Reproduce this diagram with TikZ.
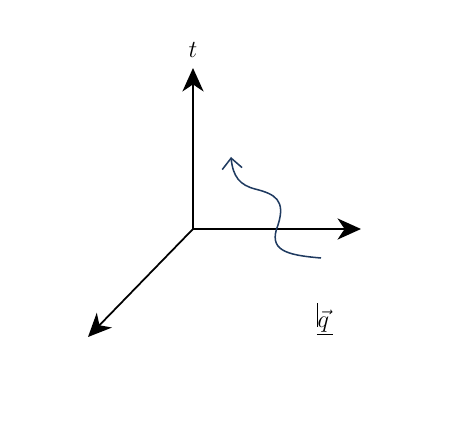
\documentclass[tikz,border=0pt]{standalone}
\usetikzlibrary{arrows.meta}
\definecolor{navy}{HTML}{1F3A60}
\tikzset{
  axis/.style={line width=1.5pt,-{Stealth[length=20pt,width=18pt,inset=6pt]}},
  path/.style={navy,line width=1.3pt,-{Straight Barb[length=9pt,width=17pt]}},
  lbl/.style={font=\Large,scale=1.45}
}
\begin{document}
\begin{tikzpicture}[x=0.03cm,y=-0.03cm]
\useasboundingbox (0,0) rectangle (463,423);
\coordinate (o) at (193,229);
\coordinate (ttip) at (193,68);
\coordinate (qtip) at (361,229);
\coordinate (ztip) at (88,337);
\draw[axis] (o) -- (ttip);
\draw[axis] (o) -- (qtip);
\draw[axis] (o) -- (ztip);
\node[lbl] (t) at (193,50) {$t$};
\node[lbl] (q) at (325,319) {\underline{\rule{0.5pt}{2.3ex}$\vec{q}$\,}};

\coordinate (w0) at (321,258);
\coordinate (w1) at (231,157);
\draw[path] (w0) .. controls (285,255) and (268,250) .. (278,225)
  .. controls (286,200) and (275,194) .. (255,189)
  .. controls (240,185) and (233,177) .. (w1);
\end{tikzpicture}
\end{document}
